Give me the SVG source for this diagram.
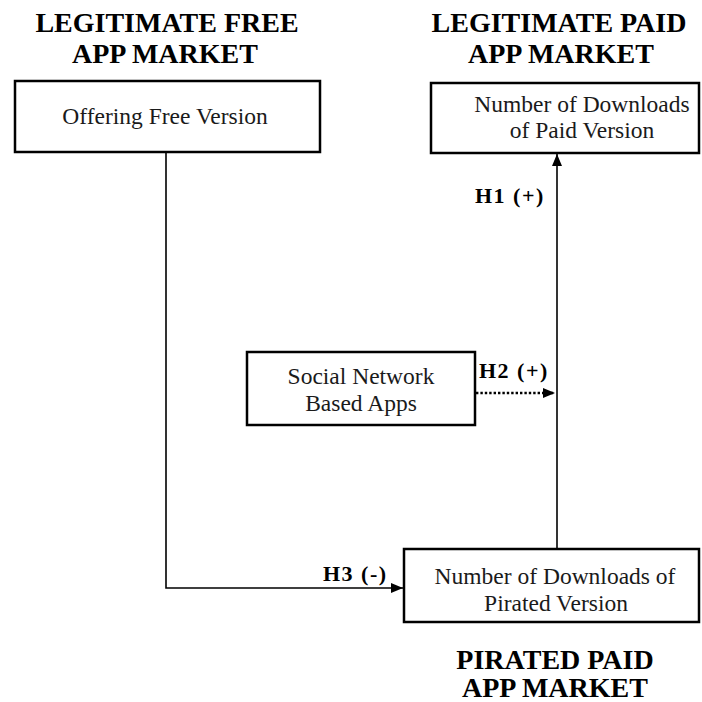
<svg xmlns="http://www.w3.org/2000/svg" width="702" height="702" viewBox="0 0 702 702">
<defs>
<style>
.hd{font-family:"Liberation Serif","Times New Roman",serif;font-weight:bold;font-size:28px;fill:#000;text-anchor:middle}
.bx{fill:#fff;stroke:#000;stroke-width:2.5}
.tx{font-family:"Liberation Serif","Times New Roman",serif;font-size:23.5px;fill:#1a1a1a;text-anchor:middle}
.lb{font-family:"Liberation Serif","Times New Roman",serif;font-weight:bold;font-size:22px;fill:#000;letter-spacing:1.5px}
.ln{fill:none;stroke:#000;stroke-width:1.6}
.dt{fill:none;stroke:#000;stroke-width:2.4;stroke-dasharray:2.4,2}
</style>
<marker id="ah" viewBox="0 0 12 10" refX="12" refY="5" markerWidth="12" markerHeight="10" orient="auto" markerUnits="userSpaceOnUse">
<path d="M0,0 L12,5 L0,10 z" fill="#000"/>
</marker>
</defs>
<rect width="702" height="702" fill="#fff"/>
<g id="headers">
<text class="hd" x="167" y="32">LEGITIMATE FREE</text>
<text class="hd" x="165" y="63">APP MARKET</text>
<text class="hd" x="559" y="32">LEGITIMATE PAID</text>
<text class="hd" x="561" y="63">APP MARKET</text>
<text class="hd" x="555" y="669">PIRATED PAID</text>
<text class="hd" x="555" y="697">APP MARKET</text>
</g>
<g id="connectors">
<polyline class="ln" points="166,152 166,588 403,588" marker-end="url(#ah)"/>
<line class="ln" x1="557" y1="549" x2="557" y2="154" marker-end="url(#ah)"/>
<line class="dt" x1="476" y1="393" x2="555" y2="393" marker-end="url(#ah)"/>
<text class="lb" x="475" y="203">H1 (+)</text>
<text class="lb" x="479" y="378">H2 (+)</text>
<text class="lb" x="323" y="581">H3 (-)</text>
</g>
<g id="node-free">
<rect class="bx" x="15" y="81" width="305" height="71"/>
<text class="tx" x="165" y="124">Offering Free Version</text>
</g>
<g id="node-paid">
<rect class="bx" x="431" y="83" width="268" height="70"/>
<text class="tx" x="582" y="112">Number of Downloads</text>
<text class="tx" x="582" y="138">of  Paid Version</text>
</g>
<g id="node-social">
<rect class="bx" x="247" y="352" width="228" height="73"/>
<text class="tx" x="361" y="384">Social Network</text>
<text class="tx" x="361" y="411">Based Apps</text>
</g>
<g id="node-pirated">
<rect class="bx" x="404" y="549" width="295" height="73"/>
<text class="tx" x="555" y="584">Number of Downloads of</text>
<text class="tx" x="556" y="611">Pirated Version</text>
</g>
</svg>
